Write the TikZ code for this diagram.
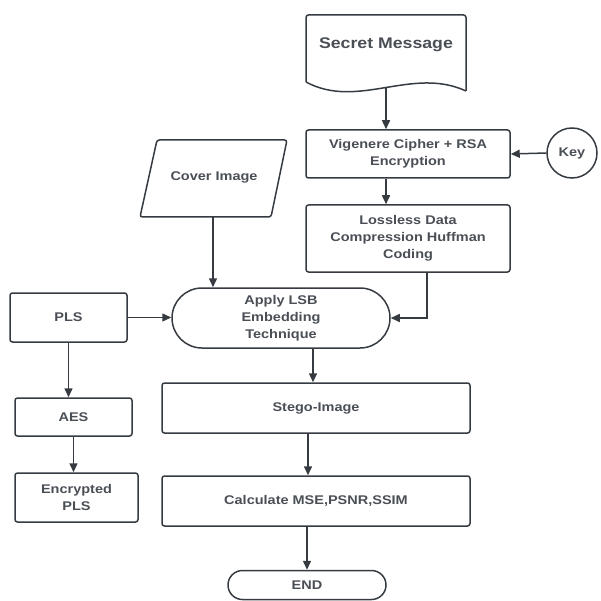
\documentclass[tikz,border=0pt]{standalone}
\usepackage{fontspec}
\setmainfont[FakeStretch=1.15]{Liberation Sans}
\usetikzlibrary{shapes.misc,arrows.meta}
\definecolor{ln}{HTML}{363B42}
\definecolor{tx}{HTML}{4A4E55}
\tikzset{
  base/.style={draw=ln,line width=1.5pt,text=tx,font=\bfseries\fontsize{12.6}{17}\selectfont,align=center,inner sep=0pt},
  box/.style={base,rectangle,rounded corners=2.5pt},
  arr/.style={draw=ln,line width=1.5pt,-{Triangle[length=9pt,width=8pt]}},
}
\begin{document}
\begin{tikzpicture}[x=1pt,y=-1pt]
\useasboundingbox (0,0) rectangle (600,601);
% Secret message document shape
\draw[draw=ln,line width=1.5pt,rounded corners=2.5pt] (306,82) -- (306,15) -- (466,15) -- (466,91);
\draw[draw=ln,line width=1.5pt] (466,91) .. controls (412,66) and (358,110) .. (306,82);
\node[text=tx,font=\bfseries\fontsize{15.4}{18}\selectfont] (sm) at (386,45) {Secret Message};
\coordinate (smb) at (386,87);
% Cover image parallelogram
\coordinate (c1) at (157,140);
\coordinate (c2) at (287,140);
\coordinate (c3) at (271,217);
\coordinate (c4) at (140,217);
\draw[draw=ln,line width=1.5pt,rounded corners=2.5pt] (c1) -- (c2) -- (c3) -- (c4) -- cycle;
\node[text=tx,font=\bfseries\fontsize{12.6}{17}\selectfont] (cover) at (214,177) {Cover Image};
\coordinate (cb) at (213,217);
% nodes
\node[box,minimum width=204,minimum height=48] (vig) at (408,154) {Vigenere Cipher + RSA\\Encryption};
\node[base,circle,minimum size=50] (key) at (572,153) {Key};
\node[box,minimum width=204,minimum height=67] (loss) at (408,238.5) {Lossless Data\\Compression Huffman\\Coding};
\node[box,minimum width=117,minimum height=49] (pls) at (68.5,317.5) {PLS};
\node[base,rounded rectangle,minimum width=218,minimum height=60] (lsb) at (281,318) {Apply LSB\\Embedding\\Technique};
\node[box,minimum width=117,minimum height=38] (aes) at (73.5,417) {AES};
\node[box,minimum width=123,minimum height=49] (enc) at (76.5,497.5) {Encrypted\\PLS};
\node[box,minimum width=308,minimum height=50] (stego) at (316,408) {Stego-Image};
\node[box,minimum width=308,minimum height=50] (calc) at (316,501) {Calculate MSE,PSNR,SSIM};
\node[base,rounded rectangle,minimum width=158,minimum height=29] (end) at (307,585) {END};
% connectors
\draw[arr] (smb) -- (smb |- vig.north);
\draw[arr] (key.west) -- (vig.east);
\draw[arr] (vig.south -| smb) -- (loss.north -| smb);
\draw[arr] ([xshift=19pt]loss.south) |- (lsb.east);
\draw[arr] (cb) -- (cb |- lsb.north);
\draw[arr] (pls.east) -- (pls.east -| lsb.west);
\draw[arr] (pls.south) -- (pls.south |- aes.north);
\draw[arr] (aes.south) -- (aes.south |- enc.north);
\draw[arr] ([xshift=32pt]lsb.south) -- ([xshift=32pt]lsb.south |- stego.north);
\draw[arr] ([xshift=-8pt]stego.south) -- ([xshift=-8pt]stego.south |- calc.north);
\draw[arr] (calc.south -| end.north) -- (end.north);
\end{tikzpicture}
\end{document}
